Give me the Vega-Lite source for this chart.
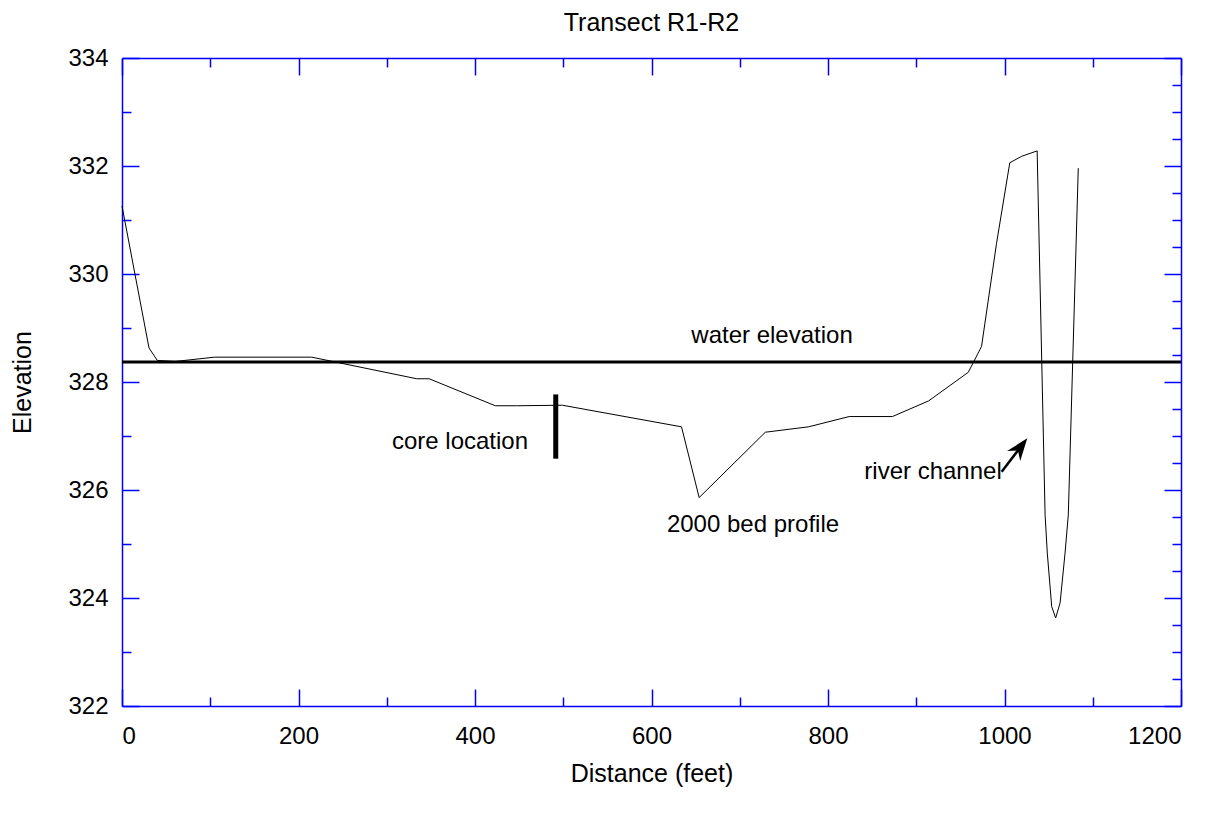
{
  "$schema": "https://vega.github.io/schema/vega-lite/v6.json",
  "autosize": "none",
  "width": 1059,
  "height": 648,
  "padding": {"left": 122, "top": 58, "right": 44, "bottom": 118},
  "background": "white",
  "title": {"text": "Transect R1-R2", "font": "Liberation Sans", "fontSize": 25, "fontWeight": "normal", "color": "black", "anchor": "middle", "offset": 10},
  "config": {
    "view": {"stroke": null},
    "axis": {"grid": false, "domainColor": "#0000ff", "domainWidth": 1.5, "tickColor": "#0000ff", "tickWidth": 1.5, "labelFont": "Liberation Sans", "labelFontSize": 24, "labelColor": "black", "titleFont": "Liberation Sans", "titleFontSize": 25, "titleFontWeight": "normal", "titleColor": "black"}
  },
  "datasets": {
    "bed": [
      {"d": 0, "e": 331.26}, {"d": 30.6, "e": 328.63}, {"d": 40, "e": 328.4}, {"d": 60, "e": 328.38},
      {"d": 105, "e": 328.46}, {"d": 215, "e": 328.46}, {"d": 334, "e": 328.06}, {"d": 348, "e": 328.06},
      {"d": 423, "e": 327.56}, {"d": 447, "e": 327.56}, {"d": 499, "e": 327.57}, {"d": 634, "e": 327.17},
      {"d": 654, "e": 325.86}, {"d": 729, "e": 327.07}, {"d": 778, "e": 327.17}, {"d": 824, "e": 327.36},
      {"d": 873, "e": 327.36}, {"d": 914, "e": 327.65}, {"d": 959, "e": 328.18}, {"d": 974, "e": 328.66},
      {"d": 991, "e": 330.57}, {"d": 1006, "e": 332.06}, {"d": 1019.5, "e": 332.18}, {"d": 1037, "e": 332.28},
      {"d": 1046, "e": 325.54}, {"d": 1048.5, "e": 324.83}, {"d": 1053.5, "e": 323.84}, {"d": 1058, "e": 323.63},
      {"d": 1063, "e": 323.91}, {"d": 1068.6, "e": 324.83}, {"d": 1072.3, "e": 325.54}, {"d": 1083.6, "e": 331.96}
    ],
    "water": [{"x0": 0, "x1": 1200, "e": 328.37}],
    "core": [{"d": 491.5, "top": 327.77, "bottom": 326.58}],
    "labels": [
      {"d": 736.6, "e": 328.86, "text": "water elevation"},
      {"d": 383, "e": 326.89, "text": "core location"},
      {"d": 715, "e": 325.36, "text": "2000 bed profile"},
      {"d": 919, "e": 326.34, "text": "river channel"}
    ],
    "arrow": [{"d": 996.8, "e": 326.34}, {"d": 1017, "e": 326.77}],
    "arrowhead": [{"d": 1017, "e": 326.77}]
  },
  "layer": [
    {
      "data": {"name": "bed"},
      "mark": {"type": "line", "color": "black", "strokeWidth": 1},
      "encoding": {
        "x": {"field": "d", "type": "quantitative", "scale": {"domain": [0, 1200], "nice": false, "zero": false},
          "axis": {"orient": "bottom", "title": "Distance (feet)", "values": [0,100,200,300,400,500,600,700,800,900,1000,1100,1200],
            "tickSize": {"condition": {"test": "datum.value % 200 === 0", "value": -17}, "value": -9},
            "labelExpr": "datum.value % 200 === 0 ? datum.label : ''", "format": "d", "labelPadding": 35, "titlePadding": 13}},
        "y": {"field": "e", "type": "quantitative", "scale": {"domain": [322, 334], "nice": false, "zero": false},
          "axis": {"orient": "left", "title": "Elevation", "values": [322,322.5,323,323.5,324,324.5,325,325.5,326,326.5,327,327.5,328,328.5,329,329.5,330,330.5,331,331.5,332,332.5,333,333.5,334],
            "tickSize": {"condition": {"test": "datum.value % 2 === 0", "value": -17}, "value": -9},
            "labelExpr": "datum.value % 2 === 0 ? datum.label : ''", "format": "d", "labelPadding": 31, "titlePadding": 32}}
      }
    },
    {
      "data": {"name": "water"},
      "mark": {"type": "rule", "color": "black", "strokeWidth": 3},
      "encoding": {
        "x": {"field": "x0", "type": "quantitative",
          "axis": {"orient": "top", "title": null, "labels": false, "values": [0,100,200,300,400,500,600,700,800,900,1000,1100,1200],
            "tickSize": {"condition": {"test": "datum.value % 200 === 0", "value": -17}, "value": -9}}},
        "x2": {"field": "x1"},
        "y": {"field": "e", "type": "quantitative",
          "axis": {"orient": "right", "title": null, "labels": false, "values": [322,322.5,323,323.5,324,324.5,325,325.5,326,326.5,327,327.5,328,328.5,329,329.5,330,330.5,331,331.5,332,332.5,333,333.5,334],
            "tickSize": {"condition": {"test": "datum.value % 2 === 0", "value": -17}, "value": -9}}}
      }
    },
    {
      "data": {"name": "core"},
      "mark": {"type": "rule", "color": "black", "strokeWidth": 5},
      "encoding": {
        "x": {"field": "d", "type": "quantitative", "axis": null},
        "y": {"field": "top", "type": "quantitative", "axis": null},
        "y2": {"field": "bottom"}
      }
    },
    {
      "data": {"name": "labels"},
      "mark": {"type": "text", "font": "Liberation Sans", "fontSize": 24, "color": "black", "align": "center", "baseline": "middle"},
      "encoding": {
        "x": {"field": "d", "type": "quantitative", "axis": null},
        "y": {"field": "e", "type": "quantitative", "axis": null},
        "text": {"field": "text"}
      }
    },
    {
      "data": {"name": "arrow"},
      "mark": {"type": "line", "color": "black", "strokeWidth": 2.5},
      "encoding": {
        "x": {"field": "d", "type": "quantitative", "axis": null},
        "y": {"field": "e", "type": "quantitative", "axis": null}
      }
    },
    {
      "data": {"name": "arrowhead"},
      "mark": {"type": "point", "shape": "M0,-1L0.65,0.75L0,0.2L-0.65,0.75Z", "filled": true, "color": "black", "opacity": 1, "size": 650, "angle": 37.7},
      "encoding": {
        "x": {"field": "d", "type": "quantitative", "axis": null},
        "y": {"field": "e", "type": "quantitative", "axis": null}
      }
    }
  ],
  "resolve": {"axis": {"x": "independent", "y": "independent"}}
}
